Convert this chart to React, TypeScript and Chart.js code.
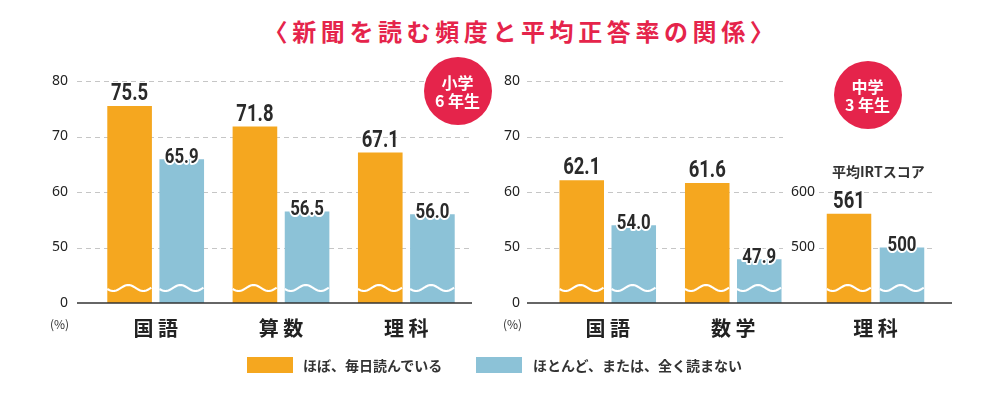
import React, { useEffect, useRef } from 'react';
import { Chart, registerables } from 'chart.js';

Chart.register(...registerables);

// ---- data ----
const elemCategories = ['国 語', '算 数', '理 科'];
const elemDaily = [75.5, 71.8, 67.1];
const elemRarely = [65.9, 56.5, 56.0];

const juniorCategories = ['国 語', '数 学'];
const juniorDaily = [62.1, 61.6];
const juniorRarely = [54.0, 47.9];

const irtCategories = ['理 科'];
const irtDaily = [561];
const irtRarely = [500];

// percent axis is broken: value 40 marks the break and is labelled "0"
const pctTickValues = [40, 50, 60, 70, 80];
const pctTickLabels = ['0', '50', '60', '70', '80'];
const irtTickValues = [500, 600];

const seriesNames = ['ほぼ、毎日読んでいる', 'ほとんど、または、全く読まない'];
const titleText = '〈新聞を読む頻度と平均正答率の関係〉';

const ORANGE = '#f5a71f';
const BLUE = '#8cc2d7';
const RED = '#e5244b';
const CJK = '"Noto Sans CJK JP", "Noto Sans", sans-serif';

const decorPlugin = {
  id: 'decor',
  beforeDatasetsDraw(chart: any, _args: any, opts: any) {
    const { ctx, chartArea } = chart;
    const y = chart.scales.y;
    const x0 = chartArea.left + opts.gridL;
    const x1 = chartArea.right + opts.gridR;
    ctx.save();
    ctx.strokeStyle = '#c6c6c6';
    ctx.lineWidth = 1;
    ctx.setLineDash([5, 4]);
    (opts.gridValues as number[]).forEach((v) => {
      const py = Math.round(y.getPixelForValue(v)) + 0.5;
      ctx.beginPath();
      ctx.moveTo(x0, py);
      ctx.lineTo(x1, py);
      ctx.stroke();
    });
    ctx.restore();
  },
  afterDatasetsDraw(chart: any, _args: any, opts: any) {
    const { ctx, chartArea } = chart;
    const y = chart.scales.y;
    const basePx = y.getPixelForValue(y.min);
    // wavy break marks
    ctx.save();
    ctx.strokeStyle = '#ffffff';
    ctx.lineWidth = 2.2;
    chart.data.datasets.forEach((_ds: any, i: number) => {
      chart.getDatasetMeta(i).data.forEach((bar: any) => {
        const left = bar.x - bar.width / 2;
        const right = bar.x + bar.width / 2;
        const yw = basePx - 15;
        ctx.beginPath();
        for (let x = left; x <= right + 0.01; x += 1) {
          const yy = yw + 3 * Math.cos((2 * Math.PI * (x - left - 6)) / 30);
          if (x === left) ctx.moveTo(x, yy);
          else ctx.lineTo(x, yy);
        }
        ctx.stroke();
      });
    });
    ctx.restore();
    // baseline
    ctx.save();
    ctx.strokeStyle = '#333333';
    ctx.lineWidth = 1.5;
    ctx.beginPath();
    ctx.moveTo(chartArea.left + opts.baseL, basePx);
    ctx.lineTo(chartArea.right + opts.baseR, basePx);
    ctx.stroke();
    ctx.restore();
    // value labels
    chart.data.datasets.forEach((_ds: any, i: number) => {
      const isDaily = i === 0;
      chart.getDatasetMeta(i).data.forEach((bar: any, j: number) => {
        const raw = opts.rawValues[i][j];
        const text = raw.toFixed(opts.decimals);
        const size = isDaily ? 24 : 21;
        const ty = isDaily ? bar.y - 6 : bar.y + 3.5;
        ctx.save();
        ctx.translate(bar.x, ty);
        ctx.scale(isDaily ? 0.77 : 0.8, 1);
        ctx.font = `bold ${size}px Roboto, "DejaVu Sans", sans-serif`;
        ctx.textAlign = 'center';
        ctx.textBaseline = 'alphabetic';
        if (!isDaily) {
          ctx.strokeStyle = '#ffffff';
          ctx.lineWidth = 4;
          ctx.lineJoin = 'round';
          ctx.strokeText(text, 0, 0);
        }
        ctx.fillStyle = '#2a2a2a';
        ctx.fillText(text, 0, 0);
        ctx.restore();
      });
    });
  },
};

type Cfg = {
  labels: string[];
  daily: number[];
  rarely: number[];
  yMin: number;
  yMax: number;
  tickValues: number[];
  tickLabel: (v: number) => string;
  yWidth: number;
  yPad: number;
  padRight: number;
  catPct: number;
  barPct: number;
  decor: any;
};

function makeConfig(c: Cfg): any {
  return {
    type: 'bar',
    data: {
      labels: c.labels,
      datasets: [
        {
          label: seriesNames[0],
          data: c.daily,
          backgroundColor: ORANGE,
          borderWidth: 0,
          categoryPercentage: c.catPct,
          barPercentage: c.barPct,
        },
        {
          label: seriesNames[1],
          data: c.rarely,
          backgroundColor: BLUE,
          borderWidth: 0,
          categoryPercentage: c.catPct,
          barPercentage: c.barPct,
        },
      ],
    },
    options: {
      responsive: false,
      animation: false,
      devicePixelRatio: 1,
      layout: { padding: { top: 81, right: c.padRight, left: 0, bottom: 0 } },
      plugins: {
        legend: { display: false },
        tooltip: { enabled: false },
        title: { display: false },
        decor: c.decor,
      },
      scales: {
        x: {
          type: 'category',
          offset: true,
          grid: { display: false, drawTicks: false },
          border: { display: false },
          ticks: {
            font: { family: CJK, size: 20, weight: 'bold' },
            color: '#222222',
            padding: 13,
            maxRotation: 0,
          },
          afterFit: (s: any) => {
            s.height = 396 - 303;
          },
        },
        y: {
          type: 'linear',
          min: c.yMin,
          max: c.yMax,
          grid: { display: false, drawTicks: false },
          border: { display: false },
          afterBuildTicks: (s: any) => {
            s.ticks = c.tickValues.map((v) => ({ value: v }));
          },
          ticks: {
            callback: (v: any) => c.tickLabel(Number(v)),
            font: { family: '"Noto Sans", sans-serif', size: 14 },
            color: '#222222',
            padding: c.yPad,
          },
          afterFit: (s: any) => {
            s.width = c.yWidth;
          },
        },
      },
    },
    plugins: [decorPlugin],
  };
}

function ChartCanvas({ left, width, cfg }: { left: number; width: number; cfg: Cfg }) {
  const ref = useRef<HTMLCanvasElement | null>(null);
  useEffect(() => {
    if (!ref.current) return;
    const chart = new Chart(ref.current, makeConfig(cfg));
    return () => chart.destroy();
  }, []);
  return (
    <canvas
      ref={ref}
      width={width}
      height={396}
      style={{ position: 'absolute', left, top: 0, width, height: 396 }}
    />
  );
}

const pctLabel = (v: number) => {
  const i = pctTickValues.indexOf(v);
  return i >= 0 ? pctTickLabels[i] : '';
};

const elemCfg: Cfg = {
  labels: elemCategories,
  daily: elemDaily,
  rarely: elemRarely,
  yMin: 40,
  yMax: 80,
  tickValues: pctTickValues,
  tickLabel: pctLabel,
  yWidth: 93,
  yPad: 25,
  padRight: 21,
  catPct: 0.832,
  barPct: 0.856,
  decor: {
    gridL: -16, gridR: 3, baseL: -16, baseR: 3,
    gridValues: [50, 60, 70, 80],
    rawValues: [elemDaily, elemRarely],
    decimals: 1,
  },
};

const juniorCfg: Cfg = {
  labels: juniorCategories,
  daily: juniorDaily,
  rarely: juniorRarely,
  yMin: 40,
  yMax: 80,
  tickValues: pctTickValues,
  tickLabel: pctLabel,
  yWidth: 55,
  yPad: 25,
  padRight: 14,
  catPct: 0.829,
  barPct: 0.856,
  decor: {
    gridL: -18, gridR: -13, baseL: -18, baseR: 14,
    gridValues: [50, 60, 70, 80],
    rawValues: [juniorDaily, juniorRarely],
    decimals: 1,
  },
};

const irtCfg: Cfg = {
  labels: irtCategories,
  daily: irtDaily,
  rarely: irtRarely,
  yMin: 400,
  yMax: 800,
  tickValues: irtTickValues,
  tickLabel: (v: number) => String(v),
  yWidth: 39,
  yPad: 4,
  padRight: 48,
  catPct: 0.938,
  barPct: 0.84,
  decor: {
    gridL: 0, gridR: 1, baseL: -9, baseR: 20,
    gridValues: irtTickValues,
    rawValues: [irtDaily, irtRarely],
    decimals: 0,
  },
};

function Badge({ cx, cy, lines }: { cx: number; cy: number; lines: string[] }) {
  const r = 34;
  return (
    <div
      style={{
        position: 'absolute',
        left: cx - r,
        top: cy - r,
        width: r * 2,
        height: r * 2,
        borderRadius: '50%',
        background: RED,
        color: '#fff',
        display: 'flex',
        flexDirection: 'column',
        alignItems: 'center',
        justifyContent: 'center',
        fontFamily: CJK,
        fontWeight: 'bold',
        fontSize: 16,
        lineHeight: '18px',
        whiteSpace: 'pre',
      }}
    >
      {lines.map((l) => (
        <div key={l}>{l}</div>
      ))}
    </div>
  );
}

export default function App() {
  const abs: React.CSSProperties = { position: 'absolute' };
  return (
    <div
      style={{
        position: 'absolute',
        left: 0,
        top: 0,
        width: 1000,
        height: 396,
        background: '#ffffff',
        overflow: 'hidden',
        fontFamily: CJK,
      }}
    >
      <div
        style={{
          ...abs,
          left: 21,
          top: 18,
          width: 1000,
          textAlign: 'center',
          color: RED,
          fontSize: 24,
          fontWeight: 'bold',
          lineHeight: '26px',
          letterSpacing: 4.6,
        }}
      >
        {titleText}
      </div>

      <ChartCanvas left={0} width={490} cfg={elemCfg} />
      <ChartCanvas left={490} width={320} cfg={juniorCfg} />
      <ChartCanvas left={780} width={200} cfg={irtCfg} />

      <div style={{ ...abs, left: 832, top: 162, fontSize: 14, fontWeight: 'bold', color: '#333', lineHeight: '18px' }}>
        平均IRTスコア
      </div>

      <div style={{ ...abs, left: 50, top: 316, fontSize: 12, color: '#333', lineHeight: '16px' }}>(%)</div>
      <div style={{ ...abs, left: 503, top: 316, fontSize: 12, color: '#333', lineHeight: '16px' }}>(%)</div>

      <Badge cx={457.5} cy={91} lines={['小学', '6 年生']} />
      <Badge cx={867.5} cy={95} lines={['中学', '3 年生']} />

      <div style={{ ...abs, left: 247, top: 357, width: 46, height: 16, background: ORANGE }} />
      <div style={{ ...abs, left: 303, top: 356, fontSize: 14, fontWeight: 'bold', color: '#333', lineHeight: '18px', whiteSpace: 'nowrap' }}>
        {seriesNames[0]}
      </div>
      <div style={{ ...abs, left: 476, top: 357, width: 46, height: 16, background: BLUE }} />
      <div style={{ ...abs, left: 533, top: 356, fontSize: 14, fontWeight: 'bold', color: '#333', lineHeight: '18px', whiteSpace: 'nowrap' }}>
        {seriesNames[1]}
      </div>
    </div>
  );
}
